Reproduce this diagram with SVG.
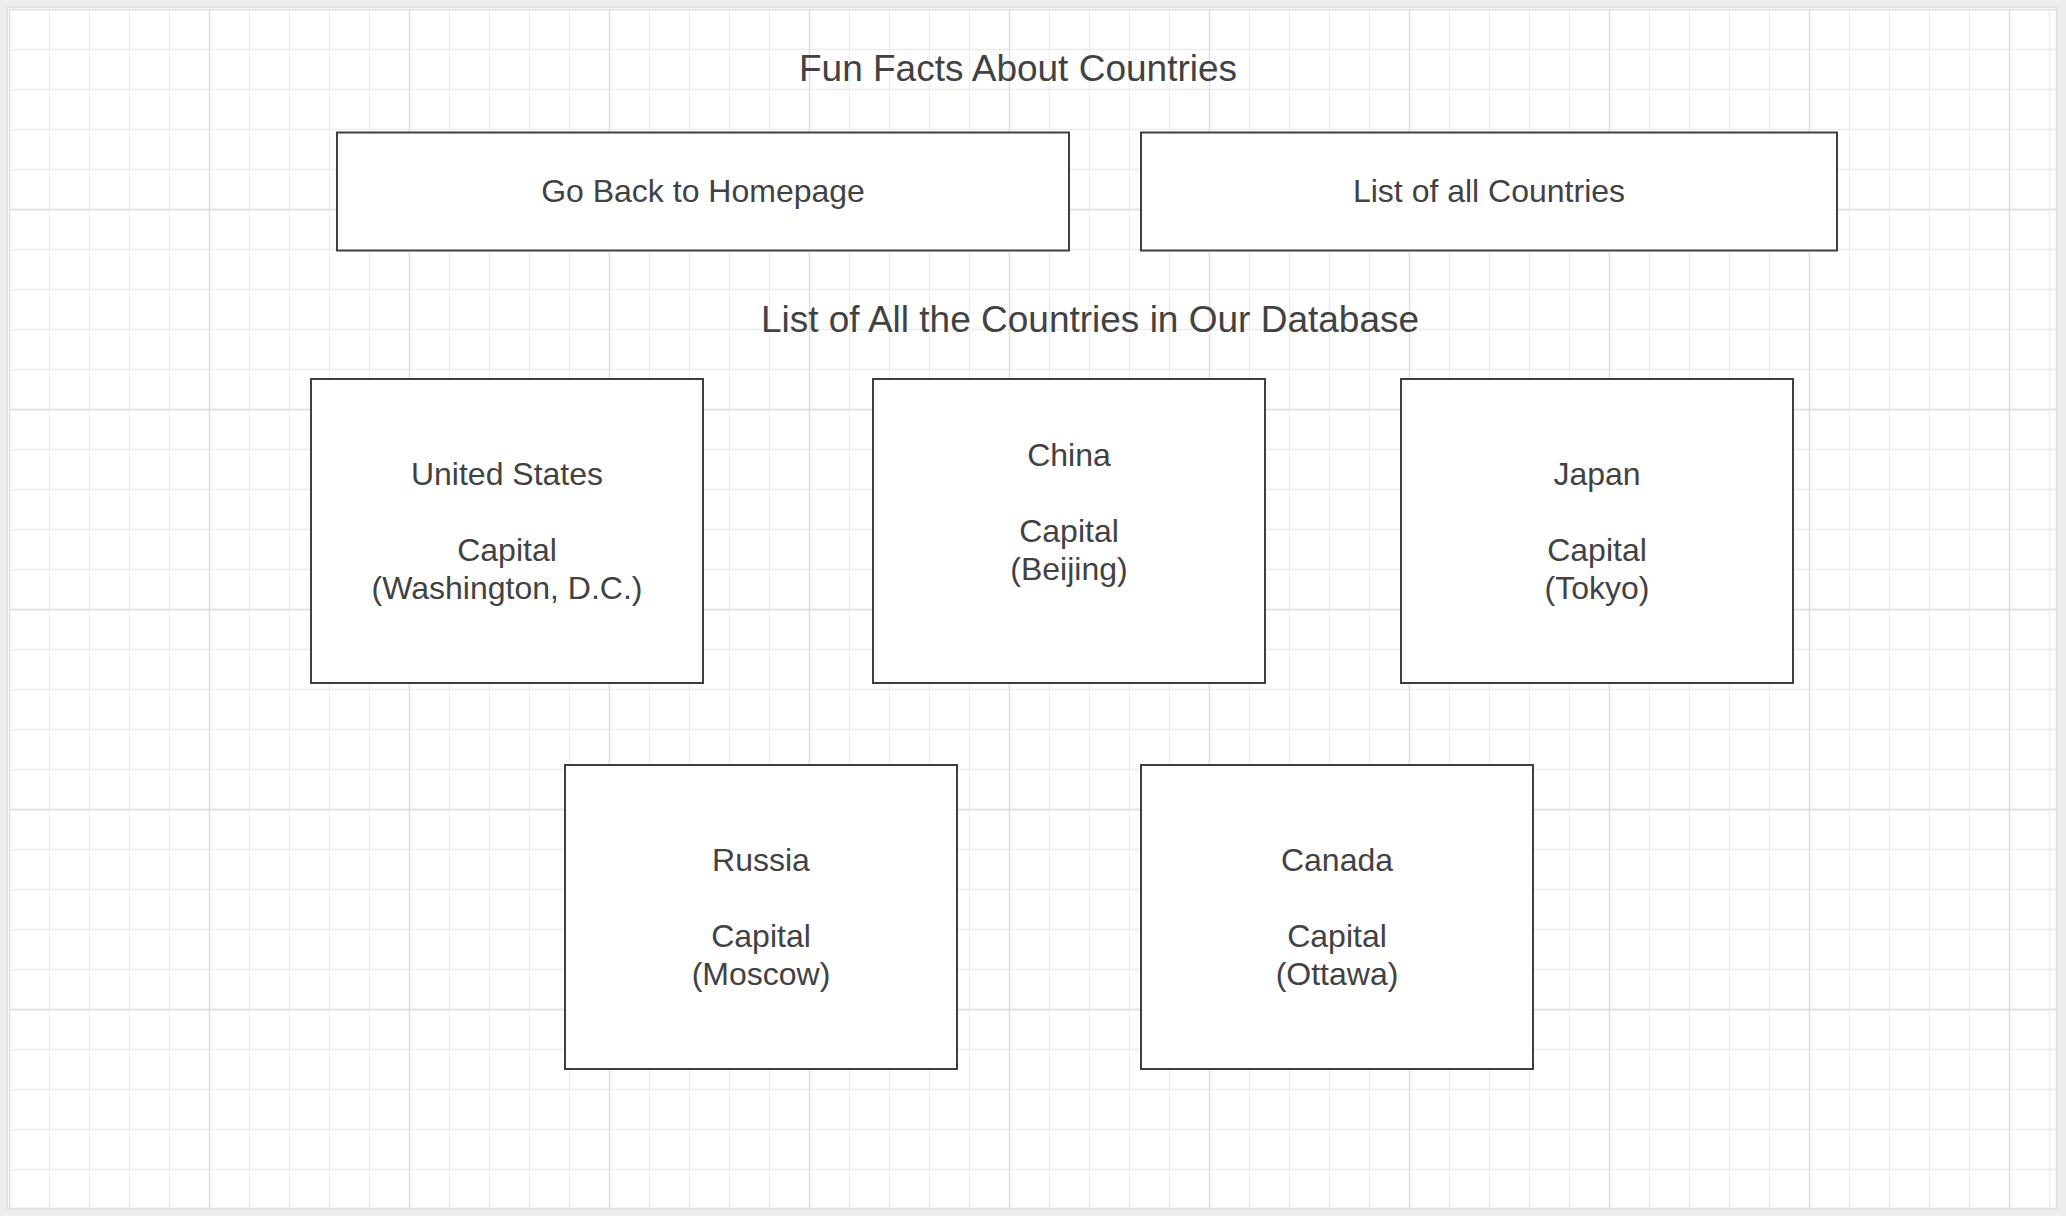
<svg xmlns="http://www.w3.org/2000/svg" width="2066" height="1216" viewBox="0 0 2066 1216">
  <style>
    .box { fill: #ffffff; stroke: #3f3f3f; stroke-width: 2; }
    .t { font-family: "Liberation Sans", Arial, sans-serif; fill: #424242; text-anchor: middle; }
    .title { font-size: 37px; }
    .lbl { font-size: 32px; }
  </style>
  <defs>
    <pattern id="gridMinor" patternUnits="userSpaceOnUse" x="-11" y="-11" width="40" height="40">
      <path d="M20.5 0 V40 M0 20.5 H40" fill="none" stroke="#ececec" stroke-width="1.3"/>
    </pattern>
    <pattern id="gridMajor" patternUnits="userSpaceOnUse" x="-91" y="-91" width="200" height="200">
      <path d="M100.5 0 V200 M0 100.5 H200" fill="none" stroke="#dedede" stroke-width="1.3"/>
    </pattern>
  </defs>

  <rect x="0" y="0" width="2066" height="1216" fill="#ececec"/>
  <rect x="8" y="8" width="2048" height="1200" fill="#ffffff"/>
  <rect x="9" y="9" width="2047" height="1199" fill="url(#gridMinor)"/>
  <rect x="9" y="9" width="2047" height="1199" fill="url(#gridMajor)"/>
  <rect x="7.5" y="7.5" width="2049" height="1201" fill="none" stroke="#dcdcdc" stroke-width="1.5"/>

  <g id="title-main">
    <text class="t title" x="1018" y="81">Fun Facts About Countries</text>
  </g>

  <g id="btn-home">
    <rect class="box" x="337" y="132.5" width="732" height="118"/>
    <text class="t lbl" x="703" y="202">Go Back to Homepage</text>
  </g>

  <g id="btn-list">
    <rect class="box" x="1141" y="132.5" width="696" height="118"/>
    <text class="t lbl" x="1489" y="202">List of all Countries</text>
  </g>

  <g id="title-list">
    <text class="t title" x="1090" y="332">List of All the Countries in Our Database</text>
  </g>

  <g id="country-us">
    <rect class="box" x="311" y="379" width="392" height="304"/>
    <text class="t lbl" x="507" y="484.5">United States</text>
    <text class="t lbl" x="507" y="560.5">Capital</text>
    <text class="t lbl" x="507" y="598.5">(Washington, D.C.)</text>
  </g>

  <g id="country-china">
    <rect class="box" x="873" y="379" width="392" height="304"/>
    <text class="t lbl" x="1069" y="465.5">China</text>
    <text class="t lbl" x="1069" y="541.5">Capital</text>
    <text class="t lbl" x="1069" y="579.5">(Beijing)</text>
  </g>

  <g id="country-japan">
    <rect class="box" x="1401" y="379" width="392" height="304"/>
    <text class="t lbl" x="1597" y="484.5">Japan</text>
    <text class="t lbl" x="1597" y="560.5">Capital</text>
    <text class="t lbl" x="1597" y="598.5">(Tokyo)</text>
  </g>

  <g id="country-russia">
    <rect class="box" x="565" y="765" width="392" height="304"/>
    <text class="t lbl" x="761" y="870.5">Russia</text>
    <text class="t lbl" x="761" y="946.5">Capital</text>
    <text class="t lbl" x="761" y="984.5">(Moscow)</text>
  </g>

  <g id="country-canada">
    <rect class="box" x="1141" y="765" width="392" height="304"/>
    <text class="t lbl" x="1337" y="870.5">Canada</text>
    <text class="t lbl" x="1337" y="946.5">Capital</text>
    <text class="t lbl" x="1337" y="984.5">(Ottawa)</text>
  </g>

  <g id="connectors"></g>
</svg>
